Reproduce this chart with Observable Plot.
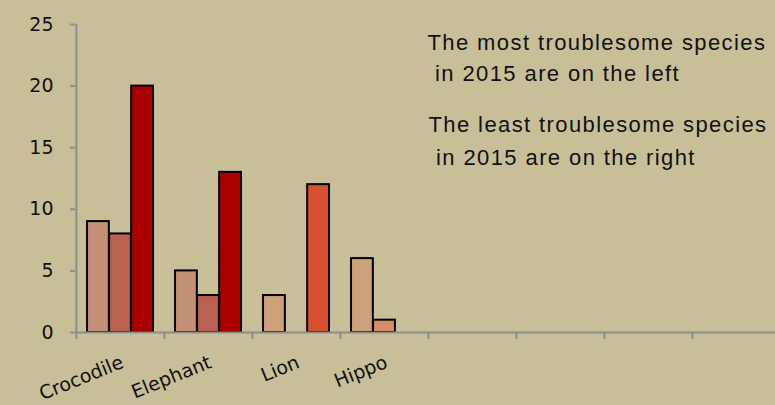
<!DOCTYPE html>
<html><head><meta charset="utf-8">
<script src="https://cdn.jsdelivr.net/npm/d3@7"></script>
<script src="https://cdn.jsdelivr.net/npm/@observablehq/plot@0.6"></script>
<style>
html,body{margin:0;padding:0;background:#c8bf98;overflow:hidden;}
#chart svg{display:block;}
</style></head><body><div id="chart"></div>
<script>
// ---- data ----
const categories = ["Crocodile", "Elephant", "Lion", "Hippo"];
const emptySlots = ["slot5", "slot6", "slot7", "slot8"];
const series1 = [9, 5, 3, 6];
const series2 = [8, 3, 0, 1];
const series3 = [20, 13, 12, 0];
const yTicks = [0, 5, 10, 15, 20, 25];
const notes = [
  "The most troublesome species\n\u00a0in 2015 are on the left",
  "The least troublesome species\n\u00a0in 2015 are on the right"
];

// ---- styles ----
const palette = [
  ["#c39076", "#b9614e", "#aa0000"],
  ["#c39076", "#b9614e", "#aa0000"],
  ["#cda17a", "#d88b64", "#d8502d"],
  ["#cda17a", "#d88b64", "#d8502d"]
];
const gray = "#8e8e8e";
const W = 775, H = 405;
const padLeft = 75, xEnd = 781, padTop = 24, baseY = 332;
const bw = (xEnd - padLeft) / (categories.length + emptySlots.length);
const barW = bw / 4;
const barInset = (bw - barW) / 2;

const allSeries = [series1, series2, series3];
const rows = allSeries.map((s, k) =>
  categories.map((c, i) => ({category: c, value: s[i], color: palette[i][k]})).filter(d => d.value > 0)
);

const xDomain = [...categories, ...emptySlots];

const plot = Plot.plot({
  width: W,
  height: H,
  marginLeft: padLeft,
  marginTop: padTop,
  marginBottom: H - baseY,
  marginRight: 0,
  style: {background: "#c8bf98", fontFamily: "DejaVu Sans", color: "#111"},
  x: {domain: xDomain, range: [padLeft, xEnd], padding: 0, axis: null, type: "band"},
  y: {domain: [0, 25], axis: null},
  marks: [
    Plot.axisY({ticks: yTicks, label: null, tickSize: 5, tickPadding: 17, fontSize: 19, stroke: gray, strokeWidth: 2, fill: "#111", tickFormat: d => String(d), fontFamily: "DejaVu Sans"}),
    ...rows.map((r, k) => Plot.barY(r, {
      x: "category", y: "value", fill: "color",
      stroke: "#000", strokeWidth: 2,
      insetLeft: barInset, insetRight: barInset, dx: (k - 1) * barW
    })),
    Plot.ruleY([0], {stroke: gray, strokeWidth: 2}),
    Plot.ruleX([xDomain[0]], {x: d => d, dx: -bw / 2, y1: 25, y2: 0, stroke: gray, strokeWidth: 2}),
    Plot.ruleX(xDomain, {x: d => d, dx: -bw / 2, y1: 0, y2: 0, insetBottom: -7, stroke: gray, strokeWidth: 2}),
    Plot.text(categories, {x: d => d, y: 0, text: d => d, textAnchor: "end", rotate: -22, dx: 2, dy: 29, fontSize: 19, fontFamily: "DejaVu Sans", fill: "#111"}),
    Plot.text([notes[0]], {frameAnchor: "top-left", text: d => d, textAnchor: "start", lineAnchor: "top", dx: 352, dy: 3.4, fontSize: 22, lineHeight: 1.41, fontFamily: "Liberation Sans", fill: "#111"}),
    Plot.text([notes[1]], {frameAnchor: "top-left", text: d => d, textAnchor: "start", lineAnchor: "top", dx: 353, dy: 84.4, fontSize: 22, lineHeight: 1.5, fontFamily: "Liberation Sans", fill: "#111"})
  ]
});
d3.select(plot).selectAll("text")
  .filter(function() { return this.textContent.includes("2015"); })
  .style("letter-spacing", "1.4px");
document.getElementById("chart").appendChild(plot);
</script>
</body></html>
